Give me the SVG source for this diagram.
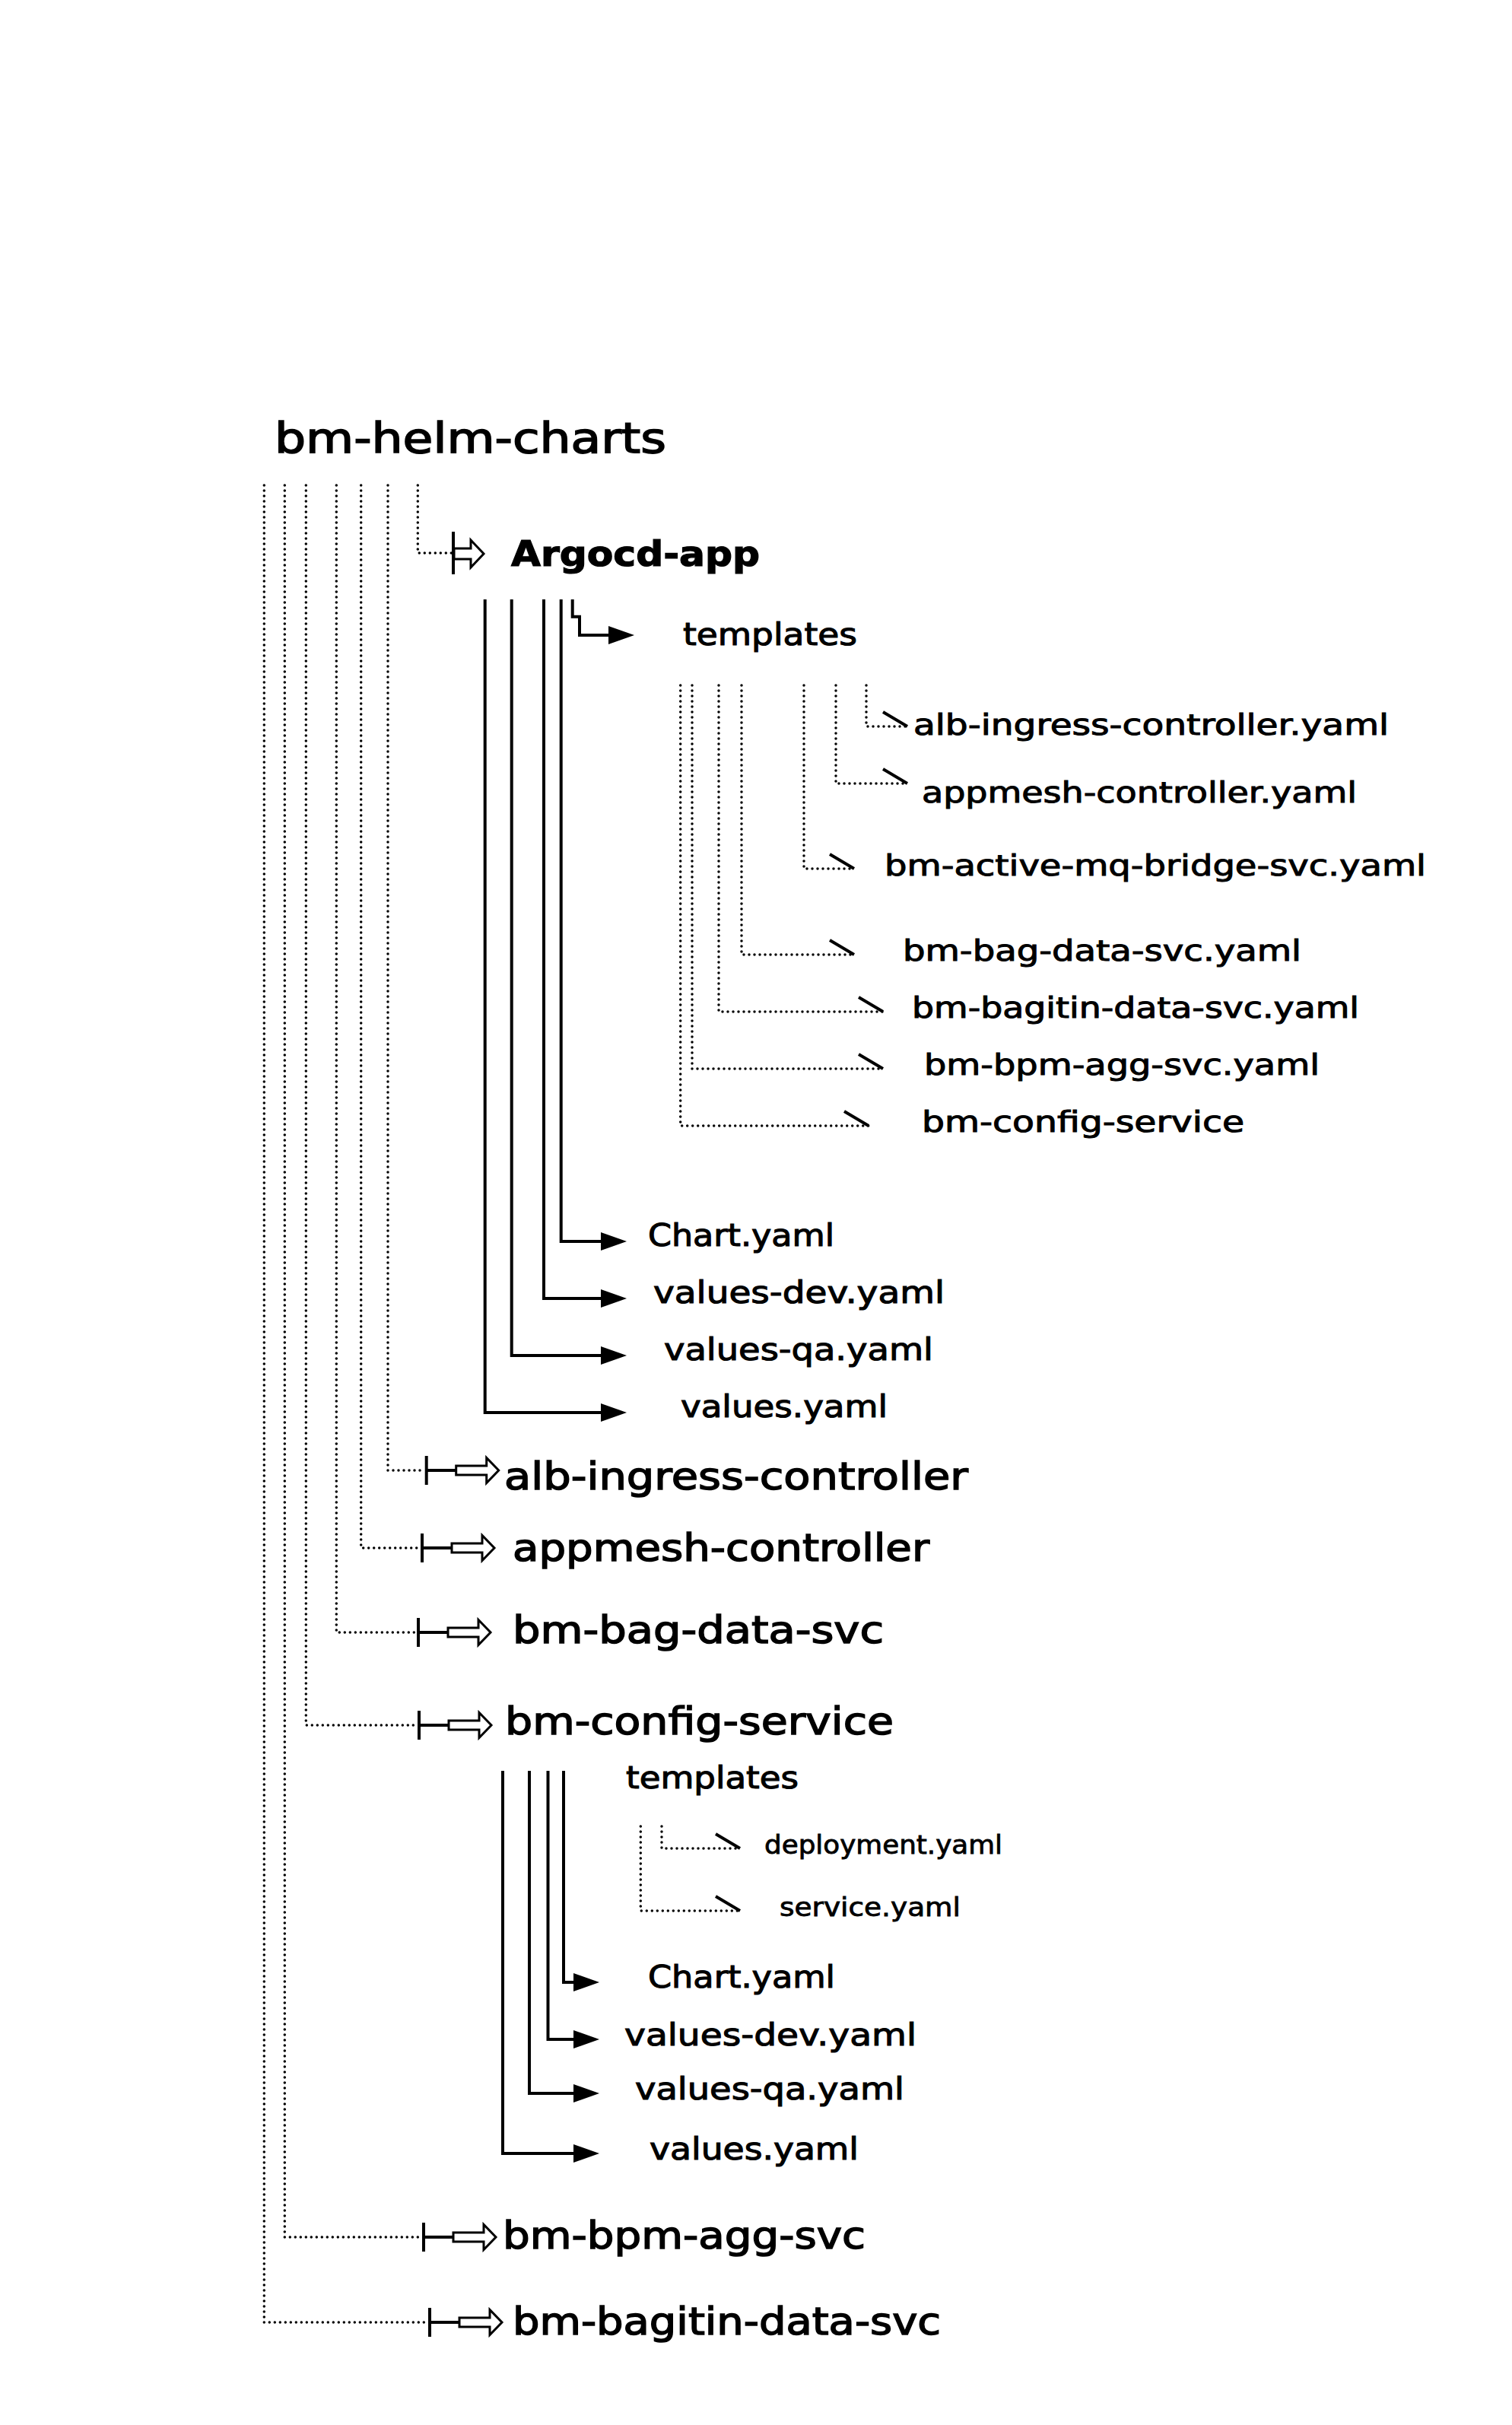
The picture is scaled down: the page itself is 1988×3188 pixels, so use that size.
<svg xmlns="http://www.w3.org/2000/svg" xmlns:xlink="http://www.w3.org/1999/xlink" width="1988" height="3188" viewBox="0 0 1988 3188">
<style>
  text { font-family: "DejaVu Sans", "Liberation Sans", sans-serif; font-weight: normal; fill: #000; stroke: #000; }
  .title { font-size: 56px; stroke-width: 1.6px; }
  .argo { font-size: 46px; font-weight: bold; stroke-width: 1.2px; }
  .node { font-size: 50px; stroke-width: 1.5px; }
  .file { font-size: 41px; stroke-width: 1.1px; }
  .tfile { font-size: 37px; stroke-width: 1px; }
  .small { font-size: 33px; stroke-width: 0.8px; }
  .dot { fill: none; stroke: #000; stroke-width: 3.5; stroke-dasharray: 0 7; stroke-linecap: round; }
  .solid { fill: none; stroke: #000; stroke-width: 4; }
</style>
<defs>
  <marker id="tri" markerUnits="userSpaceOnUse" viewBox="0 0 34 24" refX="0" refY="12" markerWidth="34" markerHeight="24" orient="auto">
    <path d="M0,0 L34,12 L0,24 Z" fill="#000"/>
  </marker>
  <marker id="barb" markerUnits="userSpaceOnUse" viewBox="-36 -24 40 28" refX="0" refY="0" markerWidth="40" markerHeight="28" orient="auto" overflow="visible">
    <path d="M-32,-19 L0,0" fill="none" stroke="#000" stroke-width="4"/>
  </marker>
  <g id="nodeArrow">
    <line x1="0" y1="-19" x2="0" y2="19" stroke="#000" stroke-width="4"/>
    <line x1="0" y1="0" x2="39" y2="0" stroke="#000" stroke-width="4"/>
    <polygon points="39,-6 79,-6 79,-16.5 95,0 79,16.5 79,6 39,6" fill="#fff" stroke="#000" stroke-width="3"/>
  </g>
</defs>
<rect width="1988" height="3188" fill="#fff"/>

<g id="connectors">
  <!-- root dotted branches -->
  <path class="dot" d="M549.3 638 V727 H594"/>
  <path class="dot" d="M510 638 V1933 H557"/>
  <path class="dot" d="M474.7 638 V2035 H551"/>
  <path class="dot" d="M442.3 638 V2146 H546"/>
  <path class="dot" d="M402.3 638 V2268 H547"/>
  <path class="dot" d="M374.3 638 V2941 H553"/>
  <path class="dot" d="M347.3 638 V3053 H561"/>

  <!-- Argocd-app arrow -->
  <line x1="596" y1="699" x2="596" y2="755" stroke="#000" stroke-width="4"/>
  <polygon points="597,721 619,721 619,710 636,728 619,746 619,735 597,735" fill="#fff" stroke="#000" stroke-width="3"/>

  <use xlink:href="#nodeArrow" href="#nodeArrow" x="560.7" y="1933"/>
  <use xlink:href="#nodeArrow" href="#nodeArrow" x="555" y="2035"/>
  <use xlink:href="#nodeArrow" href="#nodeArrow" x="550" y="2146"/>
  <use xlink:href="#nodeArrow" href="#nodeArrow" x="551" y="2268"/>
  <use xlink:href="#nodeArrow" href="#nodeArrow" x="557" y="2941"/>
  <use xlink:href="#nodeArrow" href="#nodeArrow" x="565" y="3053"/>

  <!-- Argocd-app children -->
  <path class="solid" d="M752.7 788 V810.7 H762 V835 H800" marker-end="url(#tri)"/>
  <path class="solid" d="M737.7 788 V1632 H790" marker-end="url(#tri)"/>
  <path class="solid" d="M715 788 V1707 H790" marker-end="url(#tri)"/>
  <path class="solid" d="M672.7 788 V1782 H790" marker-end="url(#tri)"/>
  <path class="solid" d="M637.7 788 V1857 H790" marker-end="url(#tri)"/>

  <!-- Argocd-app/templates children -->
  <path class="dot" d="M1139 901 V955 H1193" marker-end="url(#barb)"/>
  <path class="dot" d="M1099 901 V1030 H1193" marker-end="url(#barb)"/>
  <path class="dot" d="M1057 901 V1142 H1123" marker-end="url(#barb)"/>
  <path class="dot" d="M975 901 V1255 H1123" marker-end="url(#barb)"/>
  <path class="dot" d="M945 901 V1330 H1161" marker-end="url(#barb)"/>
  <path class="dot" d="M910 901 V1405 H1161" marker-end="url(#barb)"/>
  <path class="dot" d="M894.7 901 V1480 H1142" marker-end="url(#barb)"/>

  <!-- bm-config-service children -->
  <path class="solid" d="M741 2328 V2606 H754" marker-end="url(#tri)"/>
  <path class="solid" d="M720.5 2328 V2681 H754" marker-end="url(#tri)"/>
  <path class="solid" d="M696 2328 V2752 H754" marker-end="url(#tri)"/>
  <path class="solid" d="M661 2328 V2831 H754" marker-end="url(#tri)"/>

  <!-- bm-config-service/templates children -->
  <path class="dot" d="M870 2401 V2430 H973" marker-end="url(#barb)"/>
  <path class="dot" d="M842.3 2401 V2512 H973" marker-end="url(#barb)"/>
</g>

<g id="node-root"><text class="title" x="361" y="595" textLength="515" lengthAdjust="spacingAndGlyphs">bm-helm-charts</text></g>
<g id="node-argocd-app"><text class="argo" x="672" y="744" textLength="327" lengthAdjust="spacingAndGlyphs">Argocd-app</text></g>
<g id="node-argocd-templates"><text class="file" x="898" y="848" textLength="229" lengthAdjust="spacingAndGlyphs">templates</text></g>
<g id="node-t-alb"><text class="tfile" x="1201" y="966" textLength="625" lengthAdjust="spacingAndGlyphs">alb-ingress-controller.yaml</text></g>
<g id="node-t-appmesh"><text class="tfile" x="1212" y="1055" textLength="572" lengthAdjust="spacingAndGlyphs">appmesh-controller.yaml</text></g>
<g id="node-t-activemq"><text class="tfile" x="1163" y="1151" textLength="712" lengthAdjust="spacingAndGlyphs">bm-active-mq-bridge-svc.yaml</text></g>
<g id="node-t-bag"><text class="tfile" x="1187" y="1263" textLength="524" lengthAdjust="spacingAndGlyphs">bm-bag-data-svc.yaml</text></g>
<g id="node-t-bagitin"><text class="tfile" x="1199" y="1338" textLength="588" lengthAdjust="spacingAndGlyphs">bm-bagitin-data-svc.yaml</text></g>
<g id="node-t-bpm"><text class="tfile" x="1215" y="1413" textLength="520" lengthAdjust="spacingAndGlyphs">bm-bpm-agg-svc.yaml</text></g>
<g id="node-t-config"><text class="tfile" x="1212" y="1488" textLength="424" lengthAdjust="spacingAndGlyphs">bm-config-service</text></g>
<g id="node-argocd-chart"><text class="file" x="852" y="1638" textLength="245" lengthAdjust="spacingAndGlyphs">Chart.yaml</text></g>
<g id="node-argocd-values-dev"><text class="file" x="859" y="1713" textLength="383" lengthAdjust="spacingAndGlyphs">values-dev.yaml</text></g>
<g id="node-argocd-values-qa"><text class="file" x="873" y="1788" textLength="354" lengthAdjust="spacingAndGlyphs">values-qa.yaml</text></g>
<g id="node-argocd-values"><text class="file" x="895" y="1863" textLength="272" lengthAdjust="spacingAndGlyphs">values.yaml</text></g>
<g id="node-alb-ingress-controller"><text class="node" x="663" y="1958" textLength="610" lengthAdjust="spacingAndGlyphs">alb-ingress-controller</text></g>
<g id="node-appmesh-controller"><text class="node" x="674" y="2052" textLength="548" lengthAdjust="spacingAndGlyphs">appmesh-controller</text></g>
<g id="node-bm-bag-data-svc"><text class="node" x="674" y="2160" textLength="488" lengthAdjust="spacingAndGlyphs">bm-bag-data-svc</text></g>
<g id="node-bm-config-service"><text class="node" x="664" y="2280" textLength="511" lengthAdjust="spacingAndGlyphs">bm-config-service</text></g>
<g id="node-config-templates"><text class="file" x="823" y="2351" textLength="227" lengthAdjust="spacingAndGlyphs">templates</text></g>
<g id="node-config-deployment"><text class="small" x="1005" y="2437" textLength="313" lengthAdjust="spacingAndGlyphs">deployment.yaml</text></g>
<g id="node-config-service"><text class="small" x="1025" y="2519" textLength="238" lengthAdjust="spacingAndGlyphs">service.yaml</text></g>
<g id="node-config-chart"><text class="file" x="852" y="2613" textLength="246" lengthAdjust="spacingAndGlyphs">Chart.yaml</text></g>
<g id="node-config-values-dev"><text class="file" x="821" y="2689" textLength="384" lengthAdjust="spacingAndGlyphs">values-dev.yaml</text></g>
<g id="node-config-values-qa"><text class="file" x="835" y="2760" textLength="354" lengthAdjust="spacingAndGlyphs">values-qa.yaml</text></g>
<g id="node-config-values"><text class="file" x="854" y="2839" textLength="275" lengthAdjust="spacingAndGlyphs">values.yaml</text></g>
<g id="node-bm-bpm-agg-svc"><text class="node" x="661" y="2956" textLength="477" lengthAdjust="spacingAndGlyphs">bm-bpm-agg-svc</text></g>
<g id="node-bm-bagitin-data-svc"><text class="node" x="674" y="3069" textLength="563" lengthAdjust="spacingAndGlyphs">bm-bagitin-data-svc</text></g>
</svg>
